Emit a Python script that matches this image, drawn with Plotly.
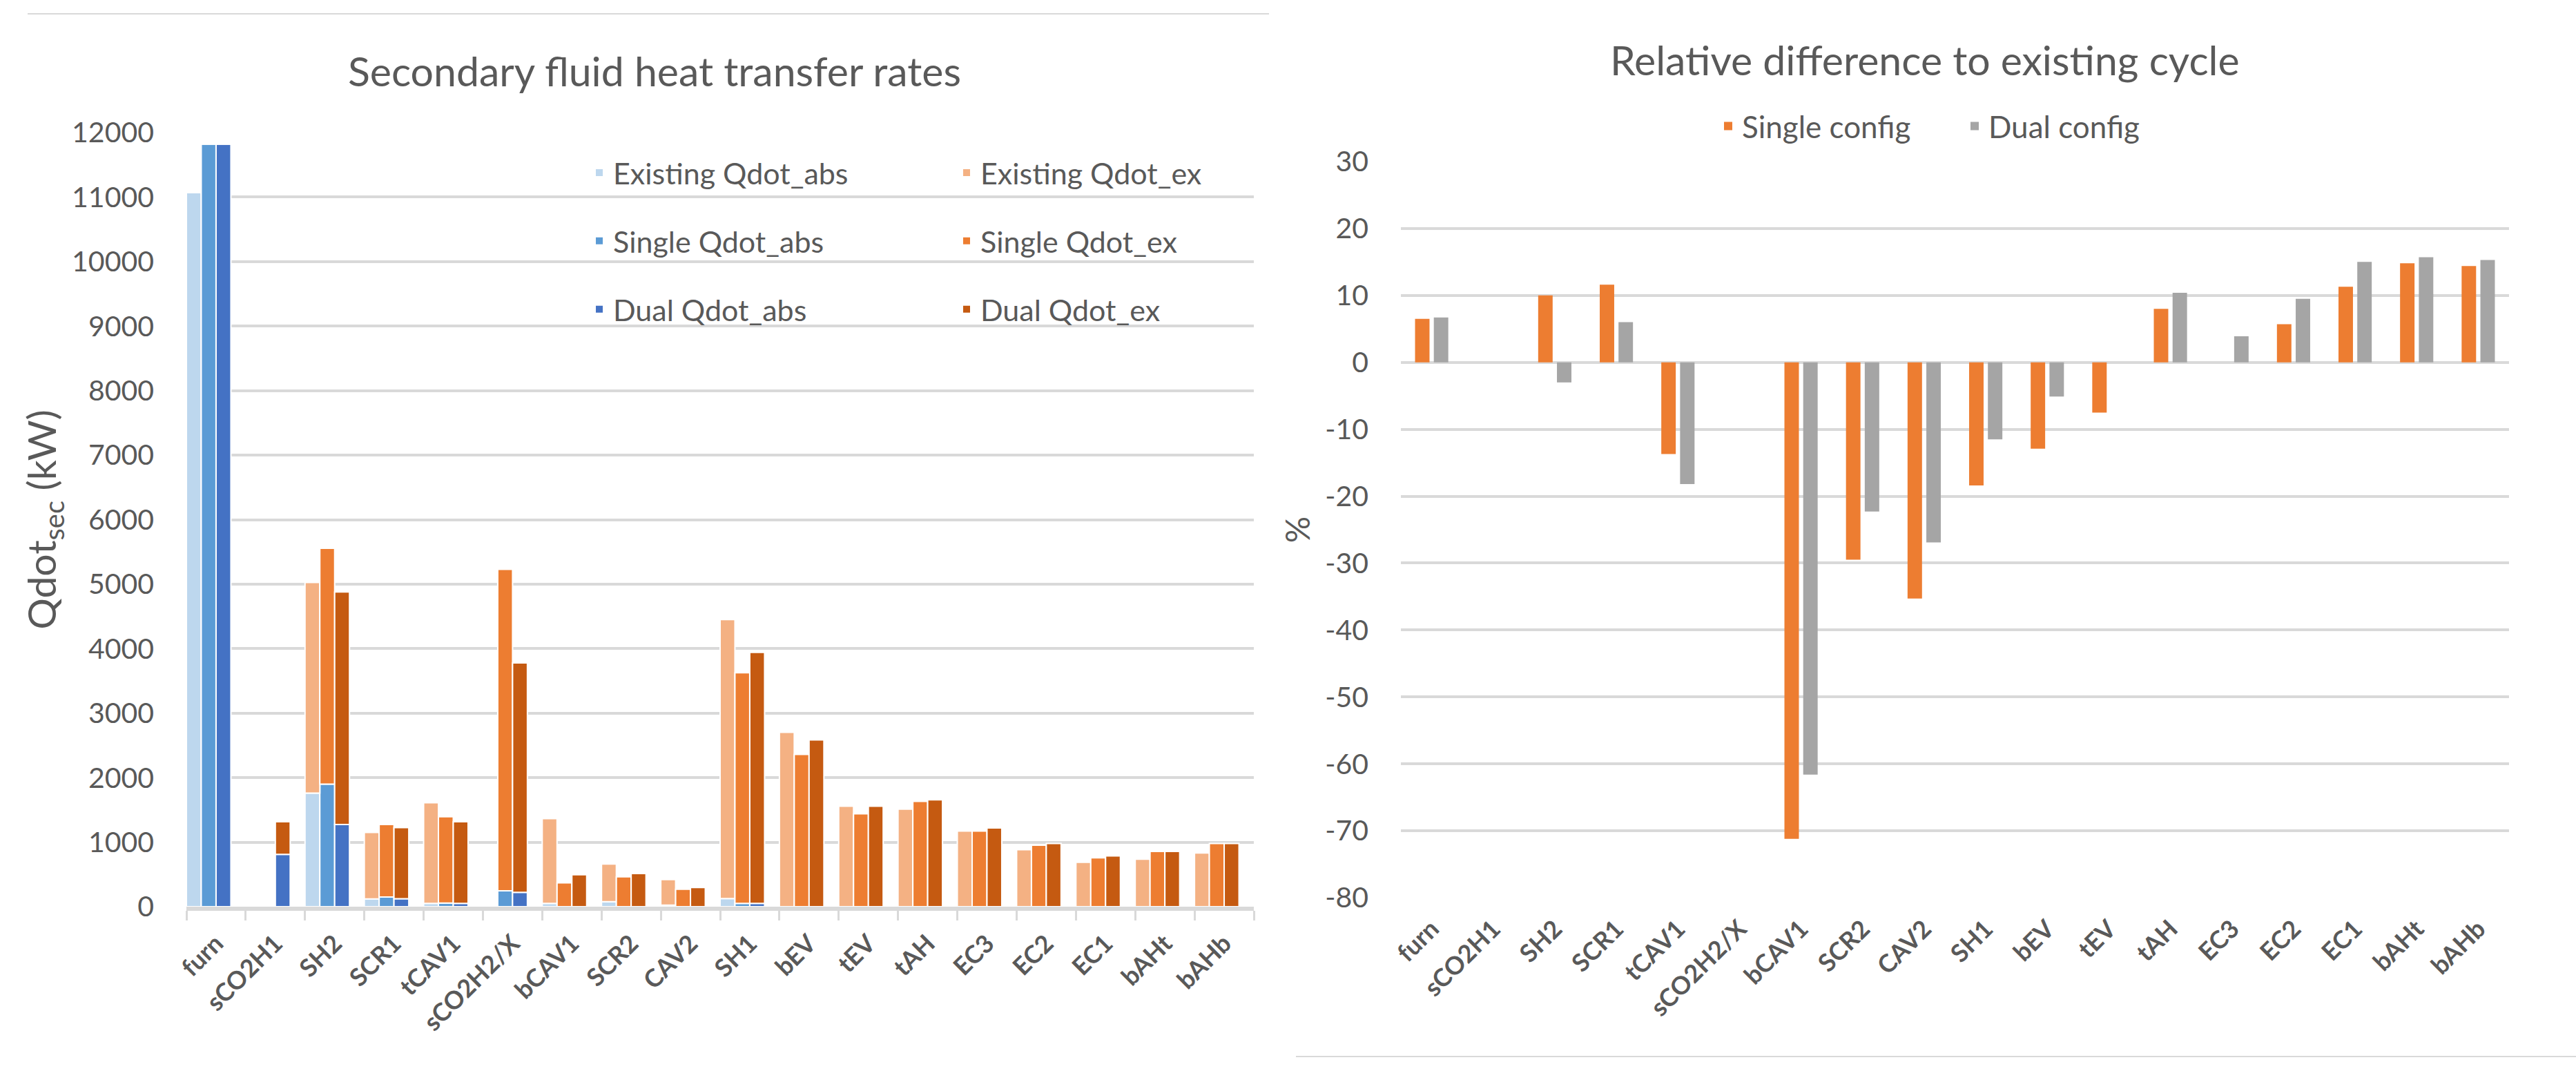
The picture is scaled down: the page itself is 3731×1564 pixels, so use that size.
import plotly.graph_objects as go

# values
categories = ['furn', 'sCO2H1', 'SH2', 'SCR1', 'tCAV1', 'sCO2H2/X', 'bCAV1', 'SCR2', 'CAV2',
              'SH1', 'bEV', 'tEV', 'tAH', 'EC3', 'EC2', 'EC1', 'bAHt', 'bAHb']

existing_abs = [11070, 0, 1760, 120, 50, 0, 50, 78, 25, 125, 0, 0, 0, 0, 0, 0, 0, 0]
existing_ex = [0, 0, 3265, 1030, 1560, 0, 1316, 583, 394, 4325, 2704, 1557, 1511, 1171, 882, 689, 736, 832]
single_abs = [11820, 0, 1900, 150, 55, 245, 0, 0, 0, 50, 0, 0, 0, 0, 0, 0, 0, 0]
single_ex = [0, 0, 3656, 1123, 1340, 4985, 370, 464, 271, 3575, 2361, 1439, 1632, 1171, 954, 757, 857, 979]
dual_abs = [11820, 810, 1273, 123, 50, 222, 0, 0, 0, 50, 0, 0, 0, 0, 0, 0, 0, 0]
dual_ex = [0, 508, 3607, 1104, 1268, 3558, 494, 515, 296, 3893, 2586, 1557, 1657, 1221, 979, 786, 857, 979]

single_rel = [6.5, None, 10.0, 11.6, -13.7, None, -71.2, -29.5, -35.3, -18.4, -12.9, -7.5, 8.0, 0, 5.7, 11.3, 14.8, 14.4]
dual_rel = [6.7, None, -3.0, 6.0, -18.2, None, -61.6, -22.3, -26.9, -11.5, -5.1, 0, 10.4, 3.9, 9.5, 15.0, 15.7, 15.3]

qdot_ticks = list(range(0, 12001, 1000))
rel_ticks = [30, 20, 10, 0, -10, -20, -30, -40, -50, -60, -70, -80]
rel_ticktext = ['30', '20', '10', '0', '-10', '-20', '-30', '-40', '-50', '-60', '-70', '-80']

W, H = 3731, 1564
FONT = 'Lato'
GREY_TXT = '#595959'
GRID = '#D9D9D9'


def px_x(p):
  return p / W


def px_y(p):
  return 1 - p / H


fig = go.Figure()

# left chart: three stacked bars per category (abs at the bottom, ex on top)
left_series = [
  ('Existing', existing_abs, existing_ex, '#BDD7EE', '#F4B183', -0.5),
  ('Single', single_abs, single_ex, '#5B9BD5', '#ED7D31', -0.25),
  ('Dual', dual_abs, dual_ex, '#4472C4', '#C55A11', 0.0),
]
for name, abs_vals, ex_vals, c_abs, c_ex, off in left_series:
  fig.add_trace(go.Bar(
    x=categories, y=abs_vals, name=name + ' Qdot_abs', legend='legend',
    legendgroup=name + 'abs', marker=dict(color=c_abs, line=dict(color='white', width=2)),
    offset=off, width=0.25, xaxis='x', yaxis='y'))
for name, abs_vals, ex_vals, c_abs, c_ex, off in left_series:
  fig.add_trace(go.Bar(
    x=categories, y=ex_vals, base=abs_vals, name=name + ' Qdot_ex', legend='legend2',
    legendgroup=name + 'ex', marker=dict(color=c_ex, line=dict(color='white', width=2)),
    offset=off, width=0.25, xaxis='x', yaxis='y'))

# right chart: relative difference
fig.add_trace(go.Bar(x=categories, y=single_rel, name='Single config', legend='legend3',
                     marker=dict(color='#ED7D31', line=dict(width=0)),
                     offset=-0.27, width=0.235, xaxis='x2', yaxis='y2'))
fig.add_trace(go.Bar(x=categories, y=dual_rel, name='Dual config', legend='legend3',
                     marker=dict(color='#A5A5A5', line=dict(width=0)),
                     offset=0.035, width=0.235, xaxis='x2', yaxis='y2'))

tick_font = dict(family=FONT, size=41, color=GREY_TXT)
cat_font = dict(family=FONT, size=36, color=GREY_TXT, weight='bold')

fig.update_layout(
  width=W, height=H,
  margin=dict(l=0, r=0, t=0, b=0, autoexpand=False),
  paper_bgcolor='white', plot_bgcolor='white',
  barmode='overlay',
  font=dict(family=FONT, color=GREY_TXT),
  xaxis=dict(domain=[px_x(270), px_x(1816)], anchor='y', type='category', automargin=False,
             showgrid=False, showline=True, linecolor=GRID, linewidth=6,
             ticks='outside', tickson='boundaries', ticklen=14, tickwidth=3, tickcolor=GRID,
             tickangle=-45, tickfont=cat_font, ticklabelstandoff=12, fixedrange=True),
  yaxis=dict(domain=[px_y(1313), px_y(192)], anchor='x', range=[0, 12000], automargin=False,
             tickvals=qdot_ticks, tickformat='d', showgrid=True, gridcolor=GRID, gridwidth=3.5,
             zeroline=False, showline=False, ticks='', tickfont=tick_font,
             ticklabelstandoff=46,
             title=dict(text='Qdot<sub>sec</sub> (kW)', font=dict(family=FONT, size=57, color=GREY_TXT),
                        standoff=4)),
  xaxis2=dict(domain=[px_x(2029), px_x(3634)], anchor='y2', type='category', automargin=False,
              showgrid=False, showline=False, ticks='', tickangle=-45, tickfont=cat_font,
              ticklabelstandoff=16),
  yaxis2=dict(domain=[px_y(1300), px_y(234)], anchor='x2', range=[-80, 30], automargin=False,
              tickvals=rel_ticks, ticktext=rel_ticktext, showgrid=True, gridcolor=GRID, gridwidth=3.5,
              zeroline=True, zerolinecolor=GRID, zerolinewidth=3.5, showline=False, ticks='',
              tickfont=tick_font, ticklabelstandoff=46,
              title=dict(text='%', font=dict(family=FONT, size=48, color=GREY_TXT), standoff=6)),
  legend=dict(x=px_x(848), y=px_y(349), xanchor='left', yanchor='middle',
              traceorder='grouped', tracegroupgap=40, bgcolor='rgba(0,0,0,0)',
              font=dict(family=FONT, size=43, color=GREY_TXT)),
  legend2=dict(x=px_x(1380), y=px_y(349), xanchor='left', yanchor='middle',
               traceorder='grouped', tracegroupgap=40, bgcolor='rgba(0,0,0,0)',
               font=dict(family=FONT, size=43, color=GREY_TXT)),
  legend3=dict(x=px_x(2840), y=px_y(183), xanchor='center', yanchor='middle',
               orientation='h', entrywidth=312, bgcolor='rgba(0,0,0,0)',
               font=dict(family=FONT, size=44, color=GREY_TXT)),
  annotations=[
    dict(text='Secondary fluid heat transfer rates', x=px_x(948), y=px_y(103),
         xref='paper', yref='paper', showarrow=False, xanchor='center', yanchor='middle',
         font=dict(family=FONT, size=59, color=GREY_TXT)),
    dict(text='Relative difference to existing cycle', x=px_x(2788), y=px_y(87),
         xref='paper', yref='paper', showarrow=False, xanchor='center', yanchor='middle',
         font=dict(family=FONT, size=59, color=GREY_TXT)),
  ],
  shapes=[
    dict(type='line', xref='paper', yref='paper', x0=px_x(40), x1=px_x(1838),
         y0=px_y(20), y1=px_y(20), line=dict(color=GRID, width=2)),
    dict(type='line', xref='paper', yref='paper', x0=px_x(1877), x1=1,
         y0=px_y(1530), y1=px_y(1530), line=dict(color=GRID, width=2)),
  ],
)

# page margin off so the figure sits at the window corner
fig.write_html("out.html", config={"displayModeBar": False},
               post_script="document.body.style.margin='0';document.documentElement.style.overflow='hidden';")
